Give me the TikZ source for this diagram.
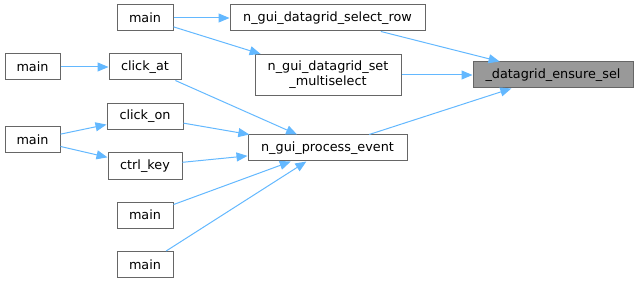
\documentclass[tikz,border=0pt]{standalone}
\usepackage{fontspec}
\setmainfont{DejaVu Sans}
\usetikzlibrary{arrows.meta}
\definecolor{edgeblue}{HTML}{63B8FF}
\definecolor{boxline}{HTML}{666666}
\definecolor{selfill}{HTML}{999999}
\begin{document}
\begin{tikzpicture}[x=1pt,y=-1pt,
  fn/.style={draw=boxline,line width=1pt,fill=white,inner sep=0pt,minimum height=26pt,
    font=\fontsize{12.8}{15}\selectfont,align=center},
  hl/.style={fn,fill=selfill},
  call/.style={draw=edgeblue,line width=1pt,-{Triangle[length=11pt,width=9pt]}}]
\useasboundingbox (0,0) rectangle (639,283);
\node[hl,minimum width=160pt] (sel) at (553,75) {\_datagrid\_ensure\_sel};
\node[fn,minimum width=195pt] (selrow) at (327.5,18) {n\_gui\_datagrid\_select\_row};
\node[fn,minimum width=146pt,minimum height=41pt] (multi) at (328,75) {n\_gui\_datagrid\_set\\\_multiselect};
\node[fn,minimum width=159pt] (proc) at (327.5,148) {n\_gui\_process\_event};
\node[fn,minimum width=56pt] (maint) at (145,18) {main};
\node[fn,minimum width=72pt] (clickat) at (145,67) {click\_at};
\node[fn,minimum width=76pt] (clickon) at (145,116.5) {click\_on};
\node[fn,minimum width=74pt] (ctrl) at (145,166) {ctrl\_key};
\node[fn,minimum width=55pt] (mainla) at (32.5,67) {main};
\node[fn,minimum width=55pt] (mainlb) at (32.5,140) {main};
\node[fn,minimum width=56pt] (mainba) at (145,215) {main};
\node[fn,minimum width=56pt] (mainbb) at (145,264.5) {main};
\draw[call] (selrow) -- (sel);
\draw[call] (multi) -- (sel);
\draw[call] (proc) -- (sel);
\draw[call] (maint) -- (selrow);
\draw[call] (maint) -- (multi);
\draw[call] (clickat) -- (proc);
\draw[call] (clickon) -- (proc);
\draw[call] (ctrl) -- (proc);
\draw[call] (mainba) -- (proc);
\draw[call] (mainbb) -- (proc);
\draw[call] (mainla) -- (clickat);
\draw[call] (mainlb) -- (clickon);
\draw[call] (mainlb) -- (ctrl);
\end{tikzpicture}
\end{document}
